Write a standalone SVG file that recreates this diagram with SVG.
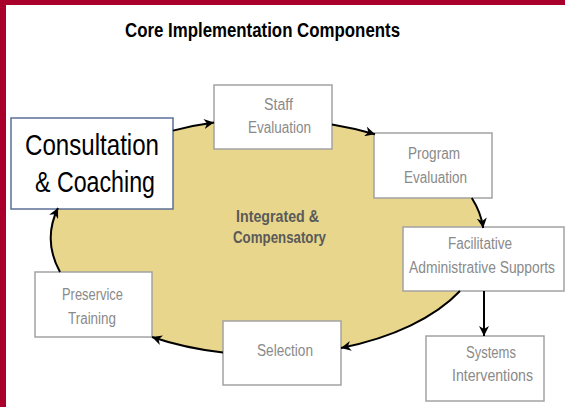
<svg xmlns="http://www.w3.org/2000/svg" width="565" height="407" viewBox="0 0 565 407">
<defs>
<style>
text{font-family:"Liberation Sans",Arial,sans-serif}
.box{fill:#fff;stroke:#a3a3a3;stroke-width:1.5}
.lbl{font-size:16px;fill:#8a8a8a}
.ctr{font-size:16.5px;font-weight:bold;fill:#5a5a5a}
.big{font-size:30px;fill:#000}
.conn{fill:none;stroke:#000;stroke-width:2}
</style>
<marker id="ah" markerUnits="userSpaceOnUse" markerWidth="12" markerHeight="10" refX="10" refY="5" orient="auto">
<path d="M0,0 L10,5 L0,10 L3,5 Z" fill="#000"/>
</marker>
</defs>
<rect x="0" y="0" width="565" height="407" fill="#fff"/>
<rect x="0" y="0" width="565" height="5" fill="#a8002a"/>
<rect x="0" y="0" width="6" height="407" fill="#a8002a"/>
<text x="125" y="37" font-size="19.5" font-weight="bold" fill="#000" textLength="275" lengthAdjust="spacingAndGlyphs">Core Implementation Components</text>
<g id="cycle">
<ellipse cx="267" cy="237" rx="217" ry="118" fill="#e8d68c"/>
<text class="ctr" x="236" y="222" textLength="83" lengthAdjust="spacingAndGlyphs">Integrated &amp;</text>
<text class="ctr" x="233" y="243" textLength="93" lengthAdjust="spacingAndGlyphs">Compensatory</text>
</g>
<g id="consultation">
<rect x="11" y="118" width="162" height="91" fill="#fff" stroke="#5b6f96" stroke-width="1.5"/>
<text class="big" x="25" y="155" textLength="134" lengthAdjust="spacingAndGlyphs">Consultation</text>
<text class="big" x="35" y="192" textLength="120" lengthAdjust="spacingAndGlyphs">&amp; Coaching</text>
</g>
<g id="staff">
<rect class="box" x="214" y="85" width="118" height="64"/>
<text class="lbl" x="264" y="110" textLength="29" lengthAdjust="spacingAndGlyphs">Staff</text>
<text class="lbl" x="248" y="133" textLength="63" lengthAdjust="spacingAndGlyphs">Evaluation</text>
</g>
<g id="program">
<rect class="box" x="374" y="133" width="118" height="65"/>
<text class="lbl" x="408" y="159" textLength="52" lengthAdjust="spacingAndGlyphs">Program</text>
<text class="lbl" x="404" y="183" textLength="63" lengthAdjust="spacingAndGlyphs">Evaluation</text>
</g>
<g id="facilitative">
<rect class="box" x="403" y="227" width="161" height="64"/>
<text class="lbl" x="448" y="249" textLength="64" lengthAdjust="spacingAndGlyphs">Facilitative</text>
<text class="lbl" x="409" y="273" textLength="146" lengthAdjust="spacingAndGlyphs">Administrative Supports</text>
</g>
<g id="systems">
<rect class="box" x="426" y="336" width="118" height="65"/>
<text class="lbl" x="466" y="358" textLength="50" lengthAdjust="spacingAndGlyphs">Systems</text>
<text class="lbl" x="452" y="381" textLength="81" lengthAdjust="spacingAndGlyphs">Interventions</text>
</g>
<g id="selection">
<rect class="box" x="223" y="321" width="118" height="64"/>
<text class="lbl" x="257" y="356" textLength="56" lengthAdjust="spacingAndGlyphs">Selection</text>
</g>
<g id="preservice">
<rect class="box" x="35" y="272" width="117" height="65"/>
<text class="lbl" x="62" y="300" textLength="61" lengthAdjust="spacingAndGlyphs">Preservice</text>
<text class="lbl" x="68" y="324" textLength="48" lengthAdjust="spacingAndGlyphs">Training</text>
</g>
<g id="connectors">
<path class="conn" marker-end="url(#ah)" d="M60,272 A217,118 0 0 1 58,208"/>
<path class="conn" marker-end="url(#ah)" d="M173,130.6 A217,118 0 0 1 214,122.6"/>
<path class="conn" marker-end="url(#ah)" d="M332,124.4 A217,118 0 0 1 375,134.3"/>
<path class="conn" marker-end="url(#ah)" d="M471.8,198 A217,118 0 0 1 483.2,228"/>
<path class="conn" marker-end="url(#ah)" d="M460,291 A217,118 0 0 1 341,347.9"/>
<path class="conn" marker-end="url(#ah)" d="M223,352.5 A217,118 0 0 1 152,337"/>
<path class="conn" marker-end="url(#ah)" d="M484,291 L484,336"/>
</g>
</svg>
